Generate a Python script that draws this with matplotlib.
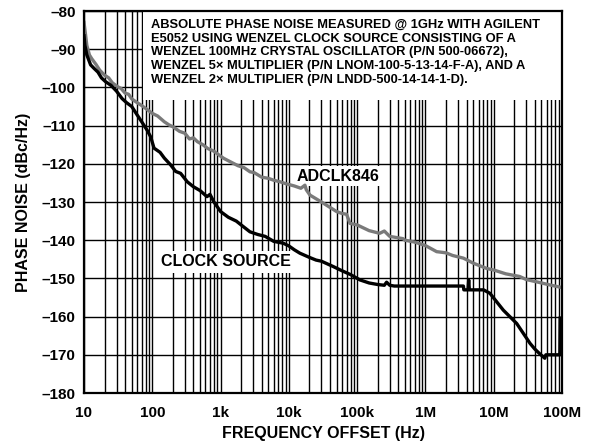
import matplotlib
matplotlib.use("Agg")
import matplotlib.pyplot as plt
from matplotlib.patches import Rectangle
from matplotlib.ticker import FixedLocator, LogLocator, NullFormatter

plt.rcParams['font.family'] = ['Liberation Sans', 'DejaVu Sans']
plt.rcParams['font.weight'] = 'bold'

# ADCLK846 phase noise (gray trace)
adclk_f = [10, 10.5, 11, 12, 13, 15, 17, 20, 23, 26, 31, 35, 40, 45, 50, 60, 68, 80,
           100, 120, 150, 175, 200, 250, 300, 350, 400, 457, 550, 650, 800, 1000,
           1120, 1400, 1800, 2200, 2700, 3100, 4000, 5000, 6000, 7400, 9000, 12000,
           15000, 17200, 18000, 20400, 30000, 50000, 60000, 70000, 78500, 100e3,
           150e3, 214e3, 250e3, 300e3, 470e3, 500e3, 700e3, 1e6, 1.46e6, 2e6, 2.5e6,
           3.6e6, 5e6, 7.9e6, 10e6, 15e6, 24e6, 30e6, 45e6, 66e6, 100e6]
adclk_db = [-83, -86, -89, -91.5, -92.5, -94, -95.5, -96.8, -97.5, -98.8, -99.8, -100.3,
            -101.5, -101.8, -103, -104, -104.6, -105.5, -106.8, -107.5, -109, -109.8,
            -110.3, -111.5, -112, -113.5, -113.2, -114.2, -115, -116, -116.7, -118,
            -118.6, -119.5, -120.5, -121, -122.1, -122.3, -123.5, -123.8, -124.3,
            -124.7, -125.2, -125.8, -126.4, -125.6, -126.8, -128.2, -130, -132.5, -133,
            -133.2, -135.6, -136, -137.5, -138.2, -137.6, -139, -139.6, -140, -140.5,
            -141.4, -143, -143.3, -144, -144.7, -146, -147.4, -147.8, -148.8, -149.5,
            -150.3, -151, -151.7, -152.4]

# clock source phase noise (black trace)
clk_f = [10, 10.3, 10.6, 11, 12.5, 14, 16, 18, 20.7, 25, 30, 36, 42, 50, 60, 70, 84, 95,
         106, 130, 150, 186, 220, 260, 325, 400, 500, 632, 700, 800, 1000, 1300, 1700,
         2000, 2690, 3500, 4500, 6000, 8300, 10000, 12000, 14500, 20000, 25000, 30000,
         44700, 60000, 80000, 110e3, 150e3, 200e3, 250e3, 270e3, 300e3, 350e3, 1e6,
         3.6e6, 3.65e6, 4.2e6, 4.3e6, 4.4e6, 7.1e6, 8.8e6, 13.8e6, 21.7e6, 34e6, 40e6,
         47.6e6, 56e6, 58e6, 88e6, 93e6, 94e6]
clk_db = [-86.5, -89, -90, -91.5, -94.1, -95, -96, -97.5, -98.5, -99.5, -101, -102.9,
          -104, -105, -107.2, -109, -111.2, -113, -115.9, -117, -118.5, -120.3, -122,
          -122.5, -124.7, -126, -127, -128.6, -128, -130, -132.5, -134, -135, -136,
          -137.8, -138.5, -139, -140.3, -140.8, -141.5, -142.5, -143.4, -144.5, -145.2,
          -145.5, -146.9, -148, -149, -150.4, -151.2, -151.6, -151.8, -151, -151.8, -152,
          -152, -152, -153, -153, -150.4, -153, -153, -153.9, -158.3, -161.8, -167,
          -168.5, -169.8, -170.9, -170, -170, -170, -160.4]

x_ticks = [10, 100, 1e3, 1e4, 1e5, 1e6, 1e7, 1e8]
x_tick_labels = ['10', '100', '1k', '10k', '100k', '1M', '10M', '100M']
y_ticks = list(range(-180, -79, 10))

note = ("ABSOLUTE PHASE NOISE MEASURED @ 1GHz WITH AGILENT\n"
        "E5052 USING WENZEL CLOCK SOURCE CONSISTING OF A\n"
        "WENZEL 100MHz CRYSTAL OSCILLATOR (P/N 500-06672),\n"
        "WENZEL 5\u00d7 MULTIPLIER (P/N LNOM-100-5-13-14-F-A), AND A\n"
        "WENZEL 2\u00d7 MULTIPLIER (P/N LNDD-500-14-14-1-D).")

fig = plt.figure(figsize=(5.97, 4.48), dpi=100)
ax = fig.add_axes([84 / 597, 1 - 393 / 448, 478 / 597, 382 / 448])

ax.set_xscale('log')
ax.set_xlim(10, 1e8)
ax.set_ylim(-180, -80)

ax.plot(adclk_f, adclk_db, color='#7a7a7a', lw=2.4, zorder=4, solid_joinstyle='round')
ax.plot(clk_f, clk_db, color='black', lw=2.4, zorder=5, solid_joinstyle='round')

ax.xaxis.set_major_locator(FixedLocator(x_ticks))
ax.set_xticklabels(x_tick_labels)
ax.xaxis.set_minor_locator(LogLocator(base=10, subs=range(2, 10), numticks=20))
ax.xaxis.set_minor_formatter(NullFormatter())
ax.set_yticks(y_ticks)
ax.set_yticklabels(['\u2013%d' % -v for v in y_ticks])
ax.grid(which='major', color='black', lw=1.0, zorder=1)
ax.grid(which='minor', axis='x', color='black', lw=1.0, zorder=1)
ax.tick_params(which='both', length=0, labelsize=11)
ax.tick_params(axis='x', pad=9)
ax.tick_params(axis='y', pad=6)
for s in ax.spines.values():
    s.set_linewidth(1.6)
    s.set_zorder(6)

# white note box over the upper grid
ax.add_patch(Rectangle(((143 - 84) / 478, (393 - 100) / 382), 1, 1, transform=ax.transAxes,
                       facecolor='white', edgecolor='none', zorder=2))
ax.text((151 - 84) / 478, (393 - 19) / 382, note, transform=ax.transAxes, fontsize=9.3,
        fontweight='bold', va='top', ha='left', linespacing=1.19, zorder=3)

ax.text(10 ** (1 + (338 - 84) / 68.29), -123.2, 'ADCLK846', fontsize=11.5,
        fontweight='bold', ha='center', va='center', zorder=3,
        bbox=dict(facecolor='white', edgecolor='none', pad=1.5))
ax.text(10 ** (1 + (226 - 84) / 68.29), -145.7, 'CLOCK SOURCE', fontsize=11.5,
        fontweight='bold', ha='center', va='center', zorder=3,
        bbox=dict(facecolor='white', edgecolor='none', pad=2.5))

ax.set_xlabel('FREQUENCY OFFSET (Hz)', fontsize=11.5, fontweight='bold', labelpad=5)
ax.set_ylabel('PHASE NOISE (dBc/Hz)', fontsize=11.5, fontweight='bold', labelpad=8)

fig.savefig('out.png', dpi=100)
